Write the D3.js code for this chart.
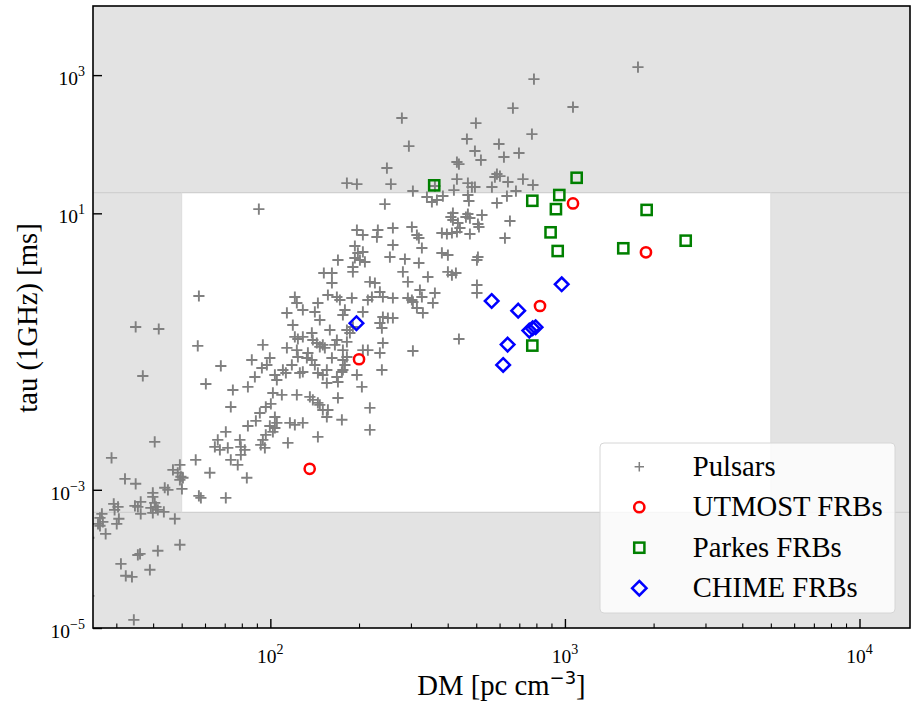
<!DOCTYPE html>
<html>
<head>
<meta charset="utf-8">
<script src="https://d3js.org/d3.v7.min.js"></script>
<style>
  body { margin: 0; background: #fff; }
  text { font-family: "Liberation Serif", "Times New Roman", serif; fill: #000; }
</style>
</head>
<body>
<div id="scatter"></div>
<script>
// each point is [DM (pc cm^-3), tau at 1 GHz (ms)]
var pulsars = [
  [73.4,0.0158],[100.4,0.0175],[96.5,0.0158],[92.1,0.0129],[89.3,0.00992],[103.6,0.0113],[116.5,0.00928],[83.9,0.00839],
  [99.6,0.00839],[103.6,0.00785],[102.0,0.00688],[70.6,0.00688],[96.5,0.00622],[66.3,0.00527],[64.8,0.00417],[67.4,0.00378],
  [71.7,0.00404],[78.8,0.00527],[79.4,0.00417],[81.9,0.00378],[79.4,0.00320],[94.3,0.00527],[95.8,0.00404],[92.8,0.00446],
  [114.7,0.00477],[40.5,0.00493],[28.9,0.00289],[55.8,0.00271],[73.4,0.00271],[77.5,0.00229],[49.3,0.00229],[46.7,0.00194],
  [48.5,0.00176],[49.7,0.00154],[50.5,0.00149],[49.3,0.00139],[62.3,0.00176],[83.2,0.00149],[32.1,0.00144],[34.9,0.00122],
  [43.8,0.00107],[44.9,0.000997],[50.1,0.00103],[39.9,0.000902],[39.9,0.000790],[57.2,0.000816],[58.1,0.000764],[70.6,0.000764],
  [29.4,0.000625],[30.4,0.000566],[29.6,0.000512],[34.7,0.000585],[36.3,0.000668],[35.5,0.000566],[40.5,0.000646],[40.9,0.000566],
  [39.3,0.000547],[41.5,0.000512],[39.9,0.000463],[36.3,0.000448],[43.5,0.000479],[26.8,0.000448],[26.4,0.000392],[27.0,0.000343],
  [26.0,0.000321],[26.4,0.000301],[30.6,0.000380],[30.1,0.000321],[47.4,0.000380],[27.6,0.000230],[49.3,0.000160],[36.1,0.000118],
  [35.5,0.000114],[41.5,0.000131],[31.1,0.0000848],[32.3,0.0000569],[33.9,0.0000550],[39.0,0.0000695],[34.4,0.0000131],[24.2,0.000202],
  [24.2,0.0000292],[105.2,0.00928],
  [57.2,0.637],[56.7,0.121],[67.9,0.0619],[60.4,0.0340],[41.8,0.212],[34.9,0.227],[36.9,0.0444],[86.5,0.0756],
  [93.6,0.0579],[97.3,0.0640],[99.6,0.0808],[94.3,0.125],[88.6,0.0429],[83.9,0.0308],[74.6,0.0278],[103.6,0.0459],
  [105.2,0.0388],[110.3,0.0542],[112.9,0.0490],[113.8,0.113],[123.0,0.105],[119.2,0.242],[113.8,0.362],[121.1,0.616],
  [123.0,0.504],[128.9,0.400],[141.6,0.374],[147.2,0.286],[145.0,0.504],[151.9,1.37],[161.8,1.37],[161.8,0.982],
  [169.6,2.11],[156.8,0.658],[168.2,0.616],[172.2,0.557],[189.1,0.596],[190.6,1.42],[190.6,1.67],[217.7,1.02],
  [226.4,0.982],[179.1,0.400],[176.3,0.338],[214.3,0.557],[221.2,0.616],[206.1,0.374],[121.1,0.163],[128.9,0.163],
  [124.0,0.152],[138.3,0.186],[139.4,0.147],[143.8,0.133],[147.2,0.117],[150.7,0.125],[153.1,0.113],[159.2,0.205],
  [168.2,0.147],[165.6,0.125],[181.9,0.205],[186.2,0.186],[190.6,0.227],[181.9,0.138],[176.3,0.105],[206.1,0.105],
  [214.3,0.105],[124.0,0.0835],[133.0,0.0808],[138.3,0.0756],[134.1,0.0954],[118.3,0.0640],[125.9,0.0490],[128.9,0.0507],
  [141.6,0.0640],[145.0,0.0490],[150.7,0.0459],[155.5,0.0542],[161.8,0.0808],[176.3,0.0756],[181.9,0.0835],[179.1,0.0640],
  [176.3,0.0542],[174.9,0.0507],[196.7,0.0459],[204.5,0.0308],[155.5,0.0351],[168.2,0.0429],[169.6,0.0363],[102.0,0.0252],
  [109.4,0.0236],[123.0,0.0236],[136.2,0.0221],[169.6,0.0213],[139.4,0.0200],[145.0,0.0181],[147.2,0.0169],[150.7,0.0143],
  [156.8,0.0143],[155.5,0.0113],[174.9,0.0103],[217.7,0.0153],[121.1,0.00868],[128.9,0.00928],[145.0,0.00582],[217.7,0.00735],
  [196.7,5.73],[206.1,4.86],[231.7,5.73],[230.0,4.54],[193.6,3.37],[198.2,2.67],[206.1,2.76],[193.6,2.26],
  [201.4,2.11],[209.4,1.98],[181.9,27.4],[196.7,26.5],[91.4,11.5],
  [785,875],[666,333],[1065,345],[279.6,239],[498.7,202],[295.3,94.0],[464.8,119],[772.6,140],
  [597,100.5],[494.8,79.6],[518.6,59.0],[698.1,74.5],[620.8,65.2],[429.9,55.2],[436.7,51.6],[248.7,45.2],
  [587.7,37.0],[601.7,34.6],[578.5,33.5],[429.9,31.3],[720.3,31.3],[640.5,28.4],[256.6,26.5],[468.4,27.4],
  [483.3,24.0],[494.8,24.0],[565.1,24.0],[778.7,25.7],[304.7,21.0],[419.9,21.7],[681.9,21.0],[635.5,17.8],
  [340.0,17.2],[353.5,14.6],[385.2,17.8],[468.4,18.4],[472.1,15.1],[587.7,14.1],[244.8,13.6],[416.6,10.1],
  [410.1,8.84],[416.6,8.00],[468.4,9.77],[475.8,8.55],[461.2,8.84],[522.7,9.45],[506.6,7.00],[510.6,6.34],
  [650.6,7.74],[433.2,7.24],[361.9,24.8],[367.6,15.6],[1770,1305],
  [260.6,6.13],[302.3,6.34],[314.4,4.86],[319.3,4.39],[326.9,3.15],[382.2,5.19],[397.5,5.02],[413.4,5.19],
  [429.9,5.37],[440.1,6.13],[475.8,5.02],[625.7,4.39],[260.6,3.48],[254.6,2.33],[286.3,2.18],[319.3,1.91],
  [382.2,2.67],[400.6,2.49],[506.6,2.33],[502.7,2.11],[281.8,1.42],[293.0,1.02],[342.6,1.20],[400.6,1.42],
  [413.4,1.28],[426.5,1.37],[502.7,0.919],[502.7,0.704],[235.4,0.728],[241.0,0.616],[260.6,0.596],[293.0,0.596],
  [302.3,0.557],[304.7,0.522],[321.9,0.778],[326.9,0.616],[361.9,0.704],[356.3,0.504],[314.4,0.427],[329.5,0.362],
  [241.0,0.316],[250.6,0.306],[260.6,0.306],[235.4,0.259],[239.1,0.219],[436.7,0.152],[304.7,0.102],[241.0,0.133],
  [235.4,0.0954],[239.1,0.0542]
];

var utmost = [[1065,13.9],[1884,2.73],[823,0.456],[200,0.0774],[136,0.00201]];

var parkes = [[360,25.4],[1096,32.7],[775,15.2],[957,18.4],[932,11.5],[1894,11.2],
  [894,5.31],[945,2.85],[1578,3.12],[2570,4.02],[775,0.122]];

var chime = [[196,0.257],[564,0.539],[694,0.391],[975,0.94],[757,0.201],[777,0.217],
  [795,0.225],[639,0.126],[617,0.064]];

// unshaded window
var dmWindow = [50, 5000];
var tauWindow = [4.7e-4, 20];

var xTicks = [1e2, 1e3, 1e4];
var xMinorTicks = [30,40,50,60,70,80,90,200,300,400,500,600,700,800,900,
  2000,3000,4000,5000,6000,7000,8000,9000];
var yTicks = [1e-5, 1e-3, 1e1, 1e3];

var legendLabels = ["Pulsars", "UTMOST FRBs", "Parkes FRBs", "CHIME FRBs"];

// set the dimensions and margins of the graph
var margin = {top: 6, right: 5, bottom: 73, left: 93},
    width = 915 - margin.left - margin.right,
    height = 701 - margin.top - margin.bottom;

var svg = d3.select("#scatter")
  .append("svg")
    .attr("width", width + margin.left + margin.right)
    .attr("height", height + margin.top + margin.bottom)
  .append("g")
    .attr("transform", "translate(" + margin.left + "," + margin.top + ")");

var x = d3.scaleLog().domain([25, 14840]).range([0, width]);
var y = d3.scaleLog().domain([1e-5, 1e4]).range([height, 0]);

svg.append("clipPath").attr("id", "clip")
  .append("rect").attr("width", width).attr("height", height);

// grey background with the white window
svg.append("rect")
  .attr("width", width).attr("height", height)
  .attr("fill", "#e3e3e3");
svg.append("rect")
  .attr("x", x(dmWindow[0]))
  .attr("y", y(tauWindow[1]))
  .attr("width", x(dmWindow[1]) - x(dmWindow[0]))
  .attr("height", y(tauWindow[0]) - y(tauWindow[1]))
  .attr("fill", "#fff");

tauWindow.forEach(function(t) {
  svg.append("line")
    .attr("x1", 0).attr("x2", width)
    .attr("y1", y(t)).attr("y2", y(t))
    .attr("stroke", "#d0d0d0").attr("stroke-width", 1.2);
});
dmWindow.forEach(function(d) {
  svg.append("line")
    .attr("x1", x(d)).attr("x2", x(d))
    .attr("y1", y(tauWindow[1])).attr("y2", y(tauWindow[0]))
    .attr("stroke", "#dcdcdc").attr("stroke-width", 1);
});

var plot = svg.append("g").attr("clip-path", "url(#clip)");

var plusPath = function(s) { return "M" + (-s) + ",0H" + s + "M0," + (-s) + "V" + s; };
var diamondPath = function(s) { return "M0," + (-s) + "L" + s + ",0L0," + s + "L" + (-s) + ",0Z"; };

// pulsars
plot.append("g")
  .selectAll("path")
  .data(pulsars)
  .enter()
  .append("path")
    .attr("transform", function(d) { return "translate(" + x(d[0]) + "," + y(d[1]) + ")"; })
    .attr("d", plusPath(5.6))
    .attr("stroke", "#808080")
    .attr("stroke-width", 1.9)
    .attr("fill", "none");

// UTMOST
plot.append("g")
  .selectAll("circle")
  .data(utmost)
  .enter()
  .append("circle")
    .attr("cx", function(d) { return x(d[0]); })
    .attr("cy", function(d) { return y(d[1]); })
    .attr("r", 5.1)
    .attr("fill", "none")
    .attr("stroke", "#ff0000")
    .attr("stroke-width", 2.5);

// Parkes
plot.append("g")
  .selectAll("rect")
  .data(parkes)
  .enter()
  .append("rect")
    .attr("x", function(d) { return x(d[0]) - 5.1; })
    .attr("y", function(d) { return y(d[1]) - 5.1; })
    .attr("width", 10.2)
    .attr("height", 10.2)
    .attr("fill", "none")
    .attr("stroke", "#008000")
    .attr("stroke-width", 2.5);

// CHIME
plot.append("g")
  .selectAll("path")
  .data(chime)
  .enter()
  .append("path")
    .attr("transform", function(d) { return "translate(" + x(d[0]) + "," + y(d[1]) + ")"; })
    .attr("d", diamondPath(6.8))
    .attr("fill", "none")
    .attr("stroke", "#0000ff")
    .attr("stroke-width", 2.5);

// frame
svg.append("rect")
  .attr("width", width).attr("height", height)
  .attr("fill", "none")
  .attr("stroke", "#000")
  .attr("stroke-width", 1.6);

// Add X axis (ticks inside)
svg.append("g")
  .attr("transform", "translate(0," + height + ")")
  .call(d3.axisBottom(x).tickValues(xTicks).tickSize(-9).tickFormat(""))
  .call(function(g) { g.select(".domain").remove(); g.selectAll("line").attr("stroke-width", 1.4); });
svg.append("g")
  .attr("transform", "translate(0," + height + ")")
  .call(d3.axisBottom(x).tickValues(xMinorTicks).tickSize(-4.5).tickFormat(""))
  .call(function(g) { g.select(".domain").remove(); g.selectAll("line").attr("stroke-width", 1.1); });

// Add Y axis
svg.append("g")
  .call(d3.axisLeft(y).tickValues(yTicks).tickSize(-9).tickFormat(""))
  .call(function(g) { g.select(".domain").remove(); g.selectAll("line").attr("stroke-width", 1.4); });

var expo = function(v) {
  var e = Math.round(Math.log10(v));
  return (e < 0 ? "\u2212" : "") + Math.abs(e);
};

var xLab = svg.append("g").selectAll("text")
  .data(xTicks)
  .enter()
  .append("text")
    .attr("x", function(d) { return x(d); })
    .attr("y", height + 35)
    .attr("text-anchor", "middle")
    .style("font-size", "19.5px");
xLab.append("tspan").text("10");
xLab.append("tspan").attr("dy", -9).style("font-size", "14px").text(function(d) { return expo(d); });

var yLab = svg.append("g").selectAll("text")
  .data(yTicks)
  .enter()
  .append("text")
    .attr("x", -8)
    .attr("y", function(d) { return y(d) + 10; })
    .attr("text-anchor", "end")
    .style("font-size", "19.5px");
yLab.append("tspan").text("10");
yLab.append("tspan").attr("dy", -9).style("font-size", "14px").text(function(d) { return expo(d); });

// axis labels
var xTitle = svg.append("text")
  .attr("x", width / 2)
  .attr("y", height + 67)
  .attr("text-anchor", "middle")
  .style("font-size", "28.7px");
xTitle.append("tspan").text("DM [pc cm");
xTitle.append("tspan").attr("dy", -11)
  .style("font-family", "'DejaVu Sans', sans-serif").style("font-size", "18px")
  .text("\u22123");
xTitle.append("tspan").attr("dy", 11).text("]");

svg.append("text")
  .attr("transform", "rotate(-90)")
  .attr("x", -(318 - margin.top))
  .attr("y", 37 - margin.left)
  .attr("text-anchor", "middle")
  .style("font-size", "28.7px")
  .text("tau (1GHz) [ms]");

// legend
var legend = svg.append("g")
  .attr("transform", "translate(" + (600 - margin.left) + "," + (443 - margin.top) + ")");
legend.append("rect")
  .attr("width", 295).attr("height", 170)
  .attr("rx", 4).attr("ry", 4)
  .attr("fill", "#fff").attr("fill-opacity", 0.8)
  .attr("stroke", "#d6d6d6").attr("stroke-width", 1);

var rows = legend.selectAll("g.row")
  .data(legendLabels)
  .enter()
  .append("g")
    .attr("class", "row")
    .attr("transform", function(d, i) { return "translate(0," + (23.7 + i * 40.5) + ")"; });

rows.append("text")
  .attr("x", 92.7)
  .attr("y", 9)
  .style("font-size", "28.7px")
  .text(function(d) { return d; });

rows.each(function(d, i) {
  var g = d3.select(this);
  if (i == 0) {
    g.append("path").attr("transform", "translate(39.3,0)").attr("d", plusPath(4.7))
      .attr("stroke", "#808080").attr("stroke-width", 1.5).attr("fill", "none");
  } else if (i == 1) {
    g.append("circle").attr("cx", 39.3).attr("cy", 0).attr("r", 5.1)
      .attr("fill", "none").attr("stroke", "#ff0000").attr("stroke-width", 2.5);
  } else if (i == 2) {
    g.append("rect").attr("x", 39.3 - 5.1).attr("y", -5.1).attr("width", 10.2).attr("height", 10.2)
      .attr("fill", "none").attr("stroke", "#008000").attr("stroke-width", 2.5);
  } else {
    g.append("path").attr("transform", "translate(39.3,0)").attr("d", diamondPath(7.2))
      .attr("fill", "none").attr("stroke", "#0000ff").attr("stroke-width", 2.5);
  }
});
</script>
</body>
</html>
